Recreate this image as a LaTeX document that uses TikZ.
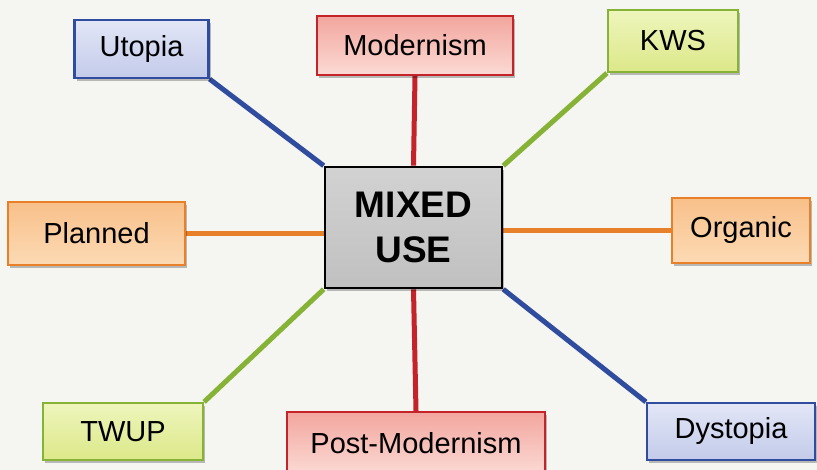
\documentclass[tikz,border=0pt]{standalone}
\usepackage{fontspec}
\setmainfont{Liberation Sans}
\usetikzlibrary{shadows}
\pgfdeclarelayer{back}
\pgfsetlayers{back,main}

\definecolor{paper}{HTML}{F5F5F2}
\definecolor{blueedge}{HTML}{2F4C9E}
\definecolor{bluetop}{HTML}{E2E6F6}
\definecolor{bluebot}{HTML}{C3CBEA}
\definecolor{rededge}{HTML}{C4232A}
\definecolor{redtop}{HTML}{F2A69E}
\definecolor{redbot}{HTML}{FBDAD4}
\definecolor{greenedge}{HTML}{86B236}
\definecolor{greentop}{HTML}{EEF5BC}
\definecolor{greenbot}{HTML}{DCE889}
\definecolor{orangeedge}{HTML}{E8802A}
\definecolor{orangetop}{HTML}{F8C08A}
\definecolor{orangebot}{HTML}{FCDAB4}
\definecolor{greytop}{HTML}{D2D2D2}
\definecolor{greybot}{HTML}{C0C0C0}

\tikzset{
  boxshadow/.style={drop shadow={shadow xshift=2pt, shadow yshift=-3pt,
      opacity=0.25, fill=black}},
  termbox/.style={draw, line width=2.2pt, inner sep=0pt,
    font=\fontsize{29}{34}\selectfont, boxshadow},
  bluebox/.style={termbox, draw=blueedge, top color=bluetop, bottom color=bluebot},
  redbox/.style={termbox, draw=rededge, top color=redtop, bottom color=redbot},
  greenbox/.style={termbox, draw=greenedge, top color=greentop, bottom color=greenbot},
  orangebox/.style={termbox, draw=orangeedge, top color=orangetop, bottom color=orangebot},
  hubbox/.style={draw=black, line width=2.6pt, inner sep=0pt,
    top color=greytop, bottom color=greybot, align=center,
    font=\fontsize{37}{45}\selectfont\bfseries, boxshadow},
  spoke/.style={line width=5pt},
}

\begin{document}
\begin{tikzpicture}[x=1pt,y=-1pt]
\useasboundingbox (0,0) rectangle (817,470);
\begin{pgfonlayer}{back}
  \fill[paper] (0,0) rectangle (817,470);
\end{pgfonlayer}

% central concept
\node[hubbox, minimum width=177pt, minimum height=121pt] (mixed) at (413.5,227.5) {MIXED\\USE};

% surrounding terms
\node[bluebox,   minimum width=134pt, minimum height=58pt] (utopia)    at (141.5,49)   {Utopia};
\node[redbox,    minimum width=196pt, minimum height=59pt] (modernism) at (415,45.5)   {Modernism};
\node[greenbox,  minimum width=130pt, minimum height=62pt] (kws)       at (673,41)     {KWS};
\node[orangebox, minimum width=177pt, minimum height=63pt] (planned)   at (96.5,233.5) {Planned};
\node[orangebox, minimum width=138pt, minimum height=65pt] (organic)   at (741,230.5)  {Organic};
\node[greenbox,  minimum width=160pt, minimum height=57pt] (twup)      at (123,431.5)  {TWUP};
\node[redbox,    minimum width=258pt, minimum height=62pt] (postmod)   at (416,443)    {Post-Modernism};
\node[bluebox,   minimum width=168pt, minimum height=57pt] (dystopia)  at (731,431.5)  {Dystopia};

% spokes, drawn beneath the boxes
\begin{pgfonlayer}{back}
  \draw[spoke, blueedge]   (utopia.south east)  -- (mixed.north west);
  \draw[spoke, rededge]    (modernism.south)    -- (mixed.north);
  \draw[spoke, greenedge]  (kws.south west)     -- (mixed.north east);
  \draw[spoke, orangeedge] (planned.east)       -- (mixed.west |- planned.east);
  \draw[spoke, orangeedge] (organic.west)       -- (mixed.east |- organic.west);
  \draw[spoke, greenedge]  (twup.north east)    -- (mixed.south west);
  \draw[spoke, rededge]    (postmod.north)      -- (mixed.south);
  \draw[spoke, blueedge]   (dystopia.north west) -- (mixed.south east);
\end{pgfonlayer}
\end{tikzpicture}
\end{document}
